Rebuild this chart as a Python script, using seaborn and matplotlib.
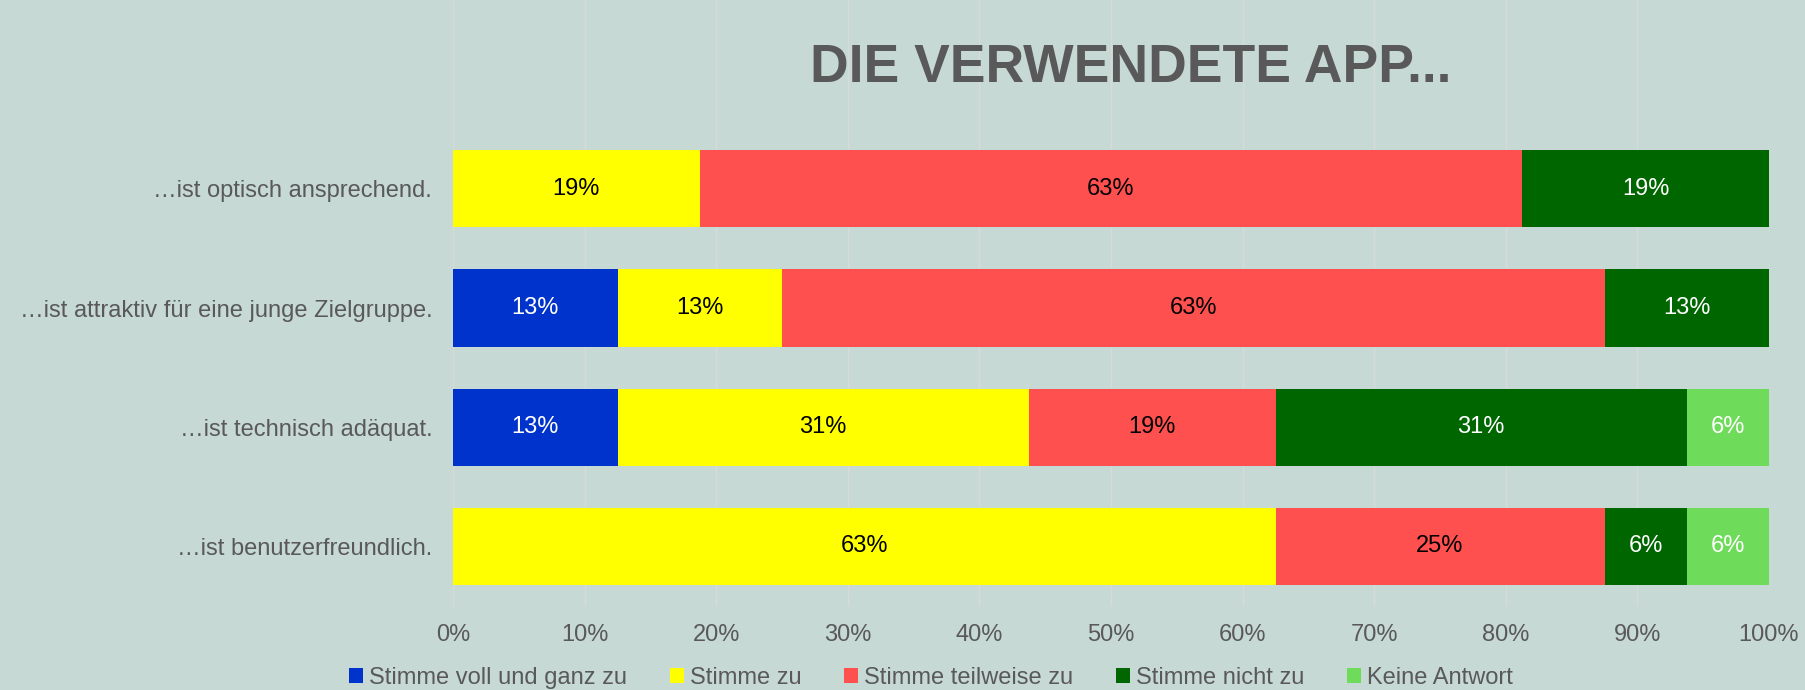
import numpy as np
import pandas as pd
import seaborn as sns
import matplotlib.pyplot as plt
from matplotlib.patches import Patch

# survey answers, share of respondents in %
items = ['…ist optisch ansprechend.',
         '…ist attraktiv für eine junge Zielgruppe.',
         '…ist technisch adäquat.',
         '…ist benutzerfreundlich.']
answers = ['Stimme voll und ganz zu', 'Stimme zu', 'Stimme teilweise zu',
           'Stimme nicht zu', 'Keine Antwort']
voll_zu = [0, 12.5, 12.5, 0]
zu = [18.75, 12.5, 31.25, 62.5]
teilweise = [62.5, 62.5, 18.75, 25]
nicht_zu = [18.75, 12.5, 31.25, 6.25]
keine = [0, 0, 6.25, 6.25]
colors = ['#0033CC', '#FFFF00', '#FF5050', '#006600', '#6FDB5A']
txt_colors = ['white', 'black', 'black', 'white', 'white']

bg = '#C6D9D4'
grey = '#595959'
fs = 17

df = pd.DataFrame({'item': items, answers[0]: voll_zu, answers[1]: zu,
                   answers[2]: teilweise, answers[3]: nicht_zu, answers[4]: keine})
cum = df[answers].cumsum(axis=1)

sns.set_style('white')
plt.rcParams['font.family'] = ['Liberation Sans', 'DejaVu Sans']

fig = plt.figure(figsize=(18.05, 6.9), dpi=100, facecolor=bg)
ax = fig.add_axes([453 / 1805, 1 - 606 / 690, (1769 - 453) / 1805, 606 / 690])
ax.set_facecolor(bg)

# stacked bars: draw cumulative totals from the outermost segment inwards
for i in range(len(answers) - 1, -1, -1):
    sns.barplot(x=cum[answers[i]], y=df['item'], color=colors[i], orient='h',
                width=0.646, saturation=1, ax=ax, linewidth=0)

for i, a in enumerate(answers):
    for j in range(len(items)):
        v = df[a].iloc[j]
        if v <= 0:
            continue
        ax.text(cum[a].iloc[j] - v / 2, j, f'{int(v + 0.5)}%', ha='center',
                va='center', fontsize=fs, color=txt_colors[i])

step = 119.2  # px per category
ax.set_ylim(3.5, 3.5 - 606 / step)
ax.set_xlim(0, 100)
ax.set_xticks(np.arange(0, 101, 10))
ax.set_xticklabels([f'{t}%' for t in range(0, 101, 10)])
ax.grid(axis='x', color='#D9D9D9', linewidth=1)
ax.set_axisbelow(True)
for s in ax.spines.values():
    s.set_visible(False)
ax.tick_params(axis='x', length=0, pad=13, labelsize=fs, labelcolor=grey)
ax.tick_params(axis='y', length=0, pad=15, labelsize=fs, labelcolor=grey)
ax.set_xlabel('')
ax.set_ylabel('')

fig.text(1131 / 1805, 1 - 82 / 690, 'DIE VERWENDETE APP...', ha='center',
         va='baseline', fontsize=38.5, fontweight='bold', color=grey)

handles = [Patch(facecolor=c, edgecolor='none') for c in colors]
fig.legend(handles, answers, loc='center', bbox_to_anchor=(931 / 1805, 1 - 678 / 690),
           ncol=5, frameon=False, fontsize=fs, labelcolor=grey,
           handlelength=0.6, handleheight=0.6, handletextpad=0.25, columnspacing=1.8)

fig.savefig('out.png', dpi=100, facecolor=bg)
